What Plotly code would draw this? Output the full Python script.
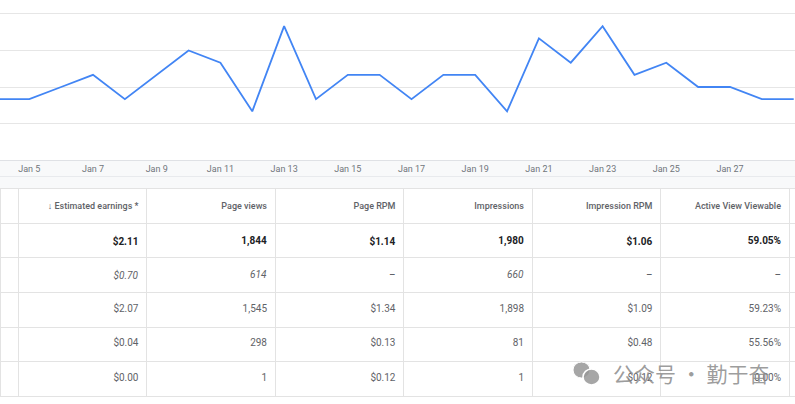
import plotly.graph_objects as go

# ---- data ----
dates = ["2024-01-%02d" % d for d in range(4, 30)]
earnings = [0.05, 0.05, 0.06, 0.07, 0.05, 0.07, 0.09, 0.08, 0.04, 0.11,
            0.05, 0.07, 0.07, 0.05, 0.07, 0.07, 0.04, 0.10, 0.08, 0.11,
            0.07, 0.08, 0.06, 0.06, 0.05, 0.05]

headers = ["", "↓ Estimated earnings *", "Page views", "Page RPM",
           "Impressions", "Impression RPM", "Active View Viewable", ""]
col_earnings = ["$2.11", "$0.70", "$2.07", "$0.04", "$0.00"]
col_pageviews = ["1,844", "614", "1,545", "298", "1"]
col_page_rpm = ["$1.14", "–", "$1.34", "$0.13", "$0.12"]
col_impressions = ["1,980", "660", "1,898", "81", "1"]
col_imp_rpm = ["$1.06", "–", "$1.09", "$0.48", "$0.12"]
col_viewable = ["59.05%", "–", "59.23%", "55.56%", "0.00%"]
watermark = "公众号 · 勤于奋"

W, H = 795, 404


def py(px):  # pixel from top -> paper y
    return 1 - px / H


def px_(x):
    return x / W


def fmt(col):
    out = []
    for i, v in enumerate(col):
        if i == 0:
            out.append("<b>%s</b>" % v)
        elif i == 1:
            out.append("<i>%s</i>" % v)
        else:
            out.append(v)
    return out


body_cols = [col_earnings, col_pageviews, col_page_rpm, col_impressions, col_imp_rpm, col_viewable]
cells = [[""] * 5] + [fmt(c) for c in body_cols] + [[""] * 5]
blank_cells = [[""] * 5 for _ in cells]
blank_headers = ["" for _ in headers]
row_colors = ["#202124", "#5f6368", "#5f6368", "#5f6368", "#5f6368"]
font_colors = [row_colors for _ in cells]
col_widths = [18, 128.5, 128.5, 128.5, 128.5, 128.5, 128.5, 6]

fig = go.Figure()

fig.add_trace(go.Scatter(
    x=dates, y=earnings, mode="lines",
    line=dict(color="#4285F4", width=1.8),
    hoverinfo="skip", showlegend=False,
))

# grid / borders of the table
fig.add_trace(go.Table(
    domain=dict(x=[0, 1], y=[0, py(188)]),
    columnwidth=col_widths,
    header=dict(values=blank_headers, height=35,
                fill=dict(color="white"), line=dict(color="#e3e3e3", width=1)),
    cells=dict(values=blank_cells, height=34.7,
               fill=dict(color="white"), line=dict(color="#e3e3e3", width=1)),
))

# table texts (same table, nudged down to centre the text in each row)
fig.add_trace(go.Table(
    domain=dict(x=[0, 1], y=[0, py(194)]),
    columnwidth=col_widths,
    header=dict(
        values=headers, align="right", height=32.7,
        fill=dict(color="rgba(0,0,0,0)"),
        line=dict(color="rgba(0,0,0,0)", width=0),
        font=dict(family="Roboto Medium, Roboto", size=9, color="#5f6368", weight=500),
    ),
    cells=dict(
        values=cells, align="right", height=34.7,
        fill=dict(color="rgba(0,0,0,0)"),
        line=dict(color="rgba(0,0,0,0)", width=0),
        font=dict(family="Roboto", size=10, color=font_colors),
    ),
))

fig.update_layout(
    width=W, height=H,
    margin=dict(l=0, r=0, t=0, b=0),
    paper_bgcolor="white", plot_bgcolor="white",
    font=dict(family="Roboto", color="#5f6368"),
    xaxis=dict(
        type="date",
        range=["2024-01-04 01:55", "2024-01-29 00:58"],
        tick0="2024-01-05", dtick=2 * 86400000,
        tickformat="%b %-d",
        showgrid=False, zeroline=False,
        showline=True, linecolor="#dfe1e5", linewidth=1,
        tickfont=dict(family="Roboto", size=9, color="#70757a"),
        ticks="", fixedrange=True,
    ),
    yaxis=dict(
        domain=[py(160), 1],
        range=[0, 0.1315],
        tick0=0, dtick=0.03,
        showticklabels=False,
        gridcolor="#e6e6e6", gridwidth=1,
        zeroline=False, fixedrange=True,
    ),
    shapes=[
        dict(type="rect", xref="paper", yref="paper", x0=0, x1=1,
             y0=py(188), y1=py(160.5), fillcolor="#f8f9fa", line=dict(width=0),
             layer="below"),
        dict(type="line", xref="paper", yref="paper", x0=0, x1=1,
             y0=py(176.5), y1=py(176.5), line=dict(color="#e8eaed", width=1)),
        # watermark icon
        dict(type="circle", xref="paper", yref="paper",
             x0=px_(573), x1=px_(590), y0=py(378), y1=py(362),
             fillcolor="rgba(150,150,150,0.85)", line=dict(color="white", width=1)),
        dict(type="circle", xref="paper", yref="paper",
             x0=px_(583), x1=px_(600), y0=py(385), y1=py(369),
             fillcolor="rgba(150,150,150,0.85)", line=dict(color="white", width=1.5)),
    ],
    annotations=[
        dict(text=watermark, xref="paper", yref="paper",
             x=px_(611), y=py(373), xanchor="left", yanchor="middle",
             showarrow=False,
             font=dict(family="Noto Sans CJK SC", size=21, color="rgba(140,140,140,0.85)")),
    ],
)

fig.write_html(
    "out.html", config={"displayModeBar": False},
    post_script=("document.body.style.margin='0px';"
                 "document.body.style.overflow='hidden';"),
)
